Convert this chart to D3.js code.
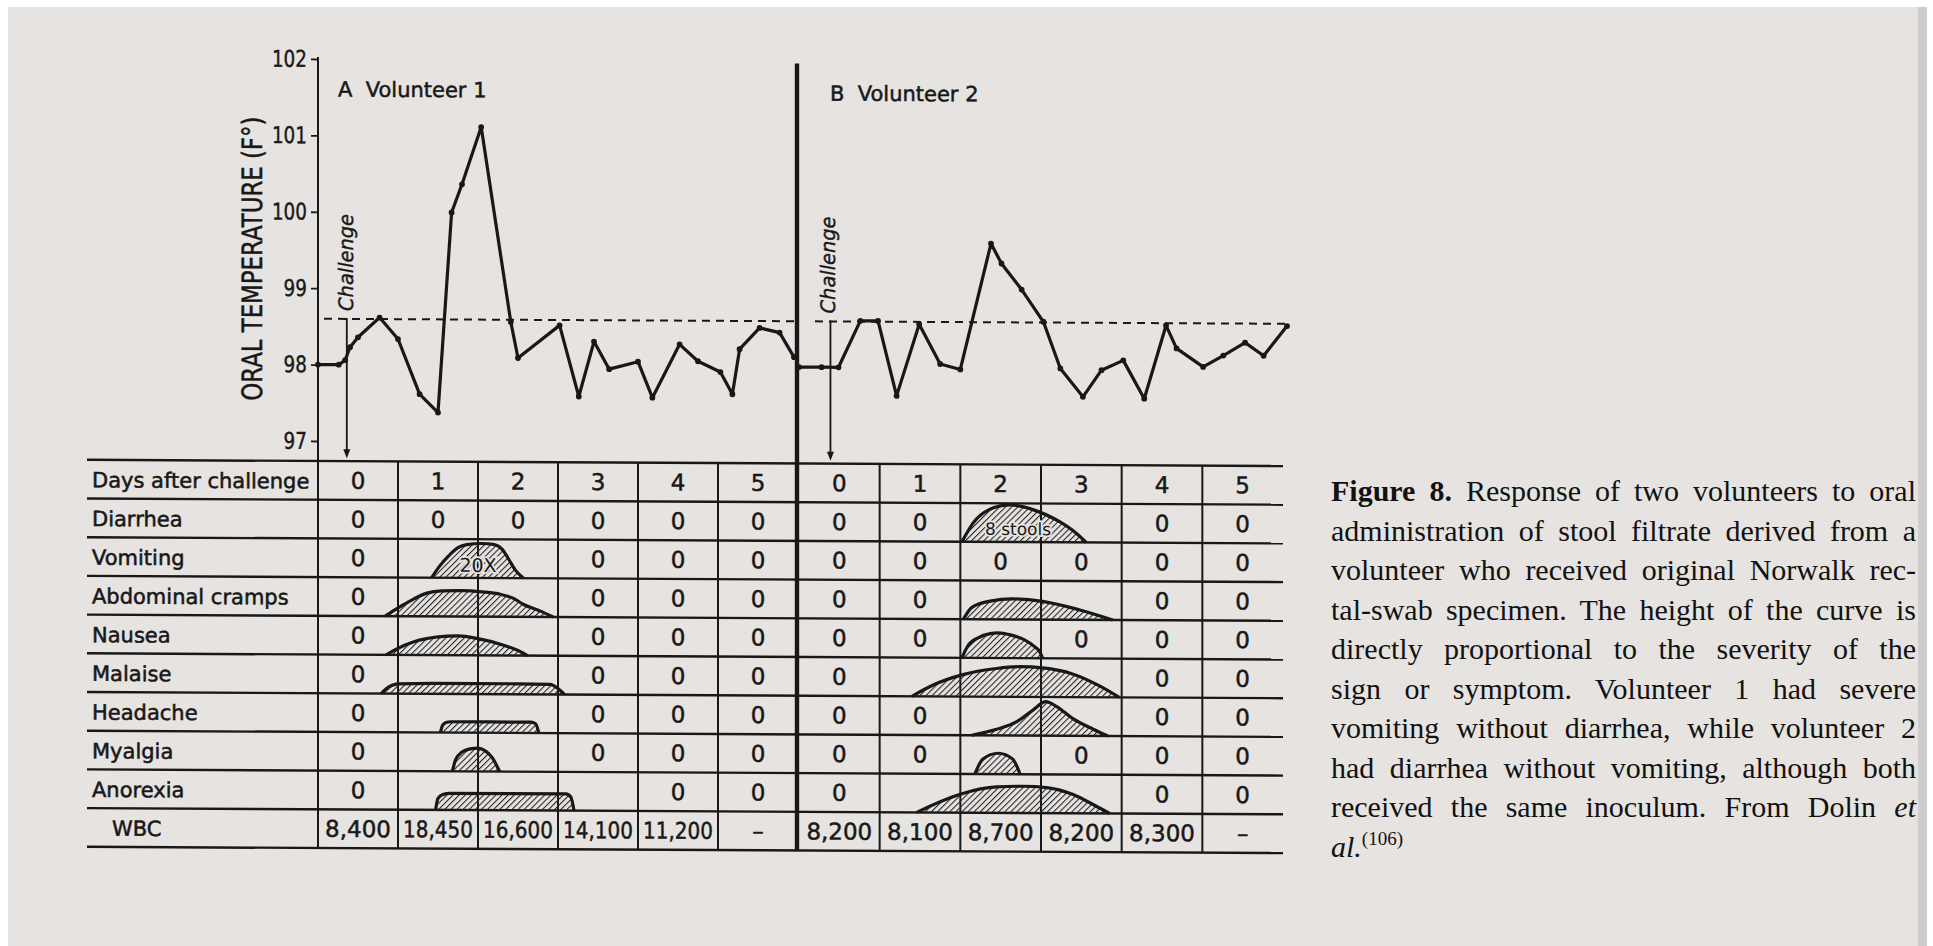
<!DOCTYPE html>
<html><head><meta charset="utf-8">
<script src="https://cdn.jsdelivr.net/npm/d3@7"></script>
<style>
html,body{margin:0;padding:0;background:#fff;}
svg{display:block;}
</style></head><body>
<svg id="c" width="1933" height="946"></svg>
<script>
// ---------------- DATA ----------------
const dayLabels = ["0","1","2","3","4","5"];
const symptoms = ["Diarrhea","Vomiting","Abdominal cramps","Nausea","Malaise","Headache","Myalgia","Anorexia"];
const tempTicks = [97,98,99,100,101,102];
const normalTemp = 98.6;
const challengeDay = [0.36, 0.39];

const v1Days  = [0,0.26,0.34,0.4,0.5,0.77,1.0,1.27,1.5,1.67,1.8,2.04,2.41,2.5,3.02,3.26,3.45,3.64,4.0,4.18,4.52,4.75,5.03,5.18,5.27,5.52,5.77,5.95];
const v1Temps = [98.0,98.0,98.06,98.23,98.36,98.62,98.34,97.62,97.38,100.0,100.37,101.12,98.57,98.1,98.53,97.6,98.32,97.96,98.06,97.59,98.29,98.07,97.93,97.64,98.23,98.51,98.45,98.13];

const v2Days  = [0,0.28,0.49,0.76,0.98,1.21,1.49,1.75,2.0,2.38,2.51,2.76,3.03,3.24,3.52,3.75,4.02,4.28,4.55,4.68,5.01,5.26,5.53,5.76,6.05];
const v2Temps = [98.0,98.0,98.0,98.61,98.61,97.63,98.57,98.05,97.98,99.63,99.37,99.03,98.61,98.0,97.63,97.98,98.11,97.61,98.57,98.27,98.03,98.18,98.35,98.18,98.57];

// table cells (rows = symptoms, cols = days 0..5); "" = covered by curve
const v1Cells = [
 ["0","0","0","0","0","0"],
 ["0","","","0","0","0"],
 ["0","","","0","0","0"],
 ["0","","","0","0","0"],
 ["0","","","0","0","0"],
 ["0","","","0","0","0"],
 ["0","","","0","0","0"],
 ["0","","","","0","0"]
];
const v2Cells = [
 ["0","0","","","0","0"],
 ["0","0","0","0","0","0"],
 ["0","0","","","0","0"],
 ["0","0","","0","0","0"],
 ["0","","","","0","0"],
 ["0","0","","","0","0"],
 ["0","0","","0","0","0"],
 ["0","","","","0","0"]
];
const v1WBC = ["8,400","18,450","16,600","14,100","11,200","\u2013"];
const v2WBC = ["8,200","8,100","8,700","8,200","8,300","\u2013"];

// severity curves: [day, severity (fraction of row height)]
const v1Vomiting  = [[1.42,0],[1.52,0.3],[1.63,0.56],[1.75,0.78],[1.86,0.86],[2.05,0.89],[2.19,0.87],[2.3,0.75],[2.38,0.5],[2.47,0.2],[2.57,0]];
const v1Abdominal = [[0.84,0],[0.95,0.15],[1.03,0.25],[1.2,0.45],[1.36,0.6],[1.55,0.66],[1.8,0.67],[2.05,0.64],[2.28,0.58],[2.45,0.47],[2.57,0.32],[2.78,0.15],[2.94,0]];
const v1Nausea    = [[0.85,0],[0.98,0.15],[1.2,0.34],[1.5,0.47],[1.75,0.5],[2.0,0.43],[2.33,0.26],[2.5,0.13],[2.62,0]];
const v1Malaise   = [[0.79,0],[0.85,0.12],[0.92,0.21],[1.0,0.25],[1.5,0.27],[2.5,0.27],[2.9,0.26],[3.0,0.15],[3.08,0]];
const v1Headache  = [[1.53,0],[1.56,0.2],[1.6,0.26],[1.66,0.28],[2.66,0.28],[2.72,0.24],[2.76,0]];
const v1Myalgia   = [[1.68,0],[1.72,0.3],[1.8,0.5],[1.9,0.58],[2.0,0.6],[2.1,0.52],[2.18,0.35],[2.27,0]];
const v1Anorexia  = [[1.47,0],[1.5,0.3],[1.56,0.4],[1.65,0.43],[3.1,0.43],[3.16,0.35],[3.2,0]];

const v2Diarrhea  = [[2.02,0],[2.16,0.49],[2.41,0.88],[2.61,0.96],[2.9,0.84],[3.23,0.53],[3.44,0.23],[3.56,0]];
const v2Abdominal = [[2.04,0],[2.14,0.3],[2.37,0.47],[2.65,0.53],[3.02,0.47],[3.47,0.26],[3.89,0]];
const v2Nausea    = [[2.02,0],[2.09,0.3],[2.22,0.52],[2.37,0.63],[2.47,0.65],[2.62,0.6],[2.79,0.48],[2.92,0.3],[2.99,0.15],[3.02,0]];
const v2Malaise   = [[1.4,0],[1.67,0.3],[2.02,0.56],[2.45,0.73],[2.74,0.78],[3.02,0.75],[3.39,0.6],[3.72,0.3],[3.97,0]];
const v2Headache  = [[2.14,0],[2.45,0.16],[2.7,0.36],[2.9,0.66],[3.06,0.88],[3.19,0.76],[3.39,0.45],[3.64,0.18],[3.83,0]];
const v2Myalgia   = [[2.18,0],[2.28,0.39],[2.47,0.54],[2.65,0.39],[2.74,0]];
const v2Anorexia  = [[1.46,0],[1.75,0.28],[2.02,0.49],[2.45,0.67],[2.78,0.69],[3.07,0.66],[3.39,0.49],[3.68,0.19],[3.85,0]];

const v1CurveRows = [null, v1Vomiting, v1Abdominal, v1Nausea, v1Malaise, v1Headache, v1Myalgia, v1Anorexia];
const v2CurveRows = [v2Diarrhea, null, v2Abdominal, v2Nausea, v2Malaise, v2Headache, v2Myalgia, v2Anorexia];

const captionLines = [
 [["Figure 8.","b"],[" Response of two volunteers to oral",""]],
 [["administration of stool filtrate derived from a",""]],
 [["volunteer who received original Norwalk rec-",""]],
 [["tal-swab specimen. The height of the curve is",""]],
 [["directly proportional to the severity of the",""]],
 [["sign or symptom. Volunteer 1 had severe",""]],
 [["vomiting without diarrhea, while volunteer 2",""]],
 [["had diarrhea without vomiting, although both",""]],
 [["received the same inoculum. From Dolin ",""],["et","i"]],
 [["al.","i"],["(106)","sup"]]
];

// ---------------- LAYOUT ----------------
const svg = d3.select("#c");
const INK = "#181818";
const PAPER = "#e6e3e1";
const SANS = "'DejaVu Sans', 'Noto Sans', sans-serif";
const SERIF = "'Liberation Serif', 'DejaVu Serif', serif";

svg.append("rect").attr("x",0).attr("y",0).attr("width",1933).attr("height",946).attr("fill","#ffffff");
svg.append("rect").attr("x",8).attr("y",7).attr("width",1913).attr("height",939).attr("fill",PAPER);
svg.append("rect").attr("x",1918).attr("y",7).attr("width",9).attr("height",939).attr("fill","#cfcccb");

const defs = svg.append("defs");
const pat = defs.append("pattern").attr("id","hatch").attr("patternUnits","userSpaceOnUse")
  .attr("width",4.3).attr("height",4.3).attr("patternTransform","rotate(45)");
pat.append("line").attr("x1",0).attr("y1",0).attr("x2",0).attr("y2",4.3)
  .attr("stroke","#222").attr("stroke-width",2.1);

const tableLeft = 87, tableTop = 461, rowH = 38.7, nRows = 10;
const tableBottom = tableTop + rowH*nRows;
const tableRight = 1283;
const x1 = d3.scaleLinear().domain([0,6]).range([318,798]);
const x2 = d3.scaleLinear().domain([0,6]).range([799,1283]);
const y = d3.scaleLinear().domain([97,102]).range([441,59]);
const dividerX = 797;

const t = 0.0052;
const fig = svg.append("g").attr("transform",`matrix(1,${t},0,1,0,${-t*318})`);

function bold(sel, w){ return sel.attr("stroke",INK).attr("stroke-width",w||0.55); }

// ---- table grid ----
for (let i=0;i<=nRows;i++){
  const yy = tableTop + i*rowH;
  fig.append("line").attr("x1",tableLeft).attr("x2",tableRight).attr("y1",yy).attr("y2",yy)
    .attr("stroke",INK).attr("stroke-width",2.4);
}
[1,2,3,4,5].forEach(d=>{
  fig.append("line").attr("x1",x1(d)).attr("x2",x1(d)).attr("y1",tableTop).attr("y2",tableBottom).attr("stroke",INK).attr("stroke-width",2);
  fig.append("line").attr("x1",x2(d)).attr("x2",x2(d)).attr("y1",tableTop).attr("y2",tableBottom).attr("stroke",INK).attr("stroke-width",2);
});
fig.append("line").attr("x1",x1(0)).attr("x2",x1(0)).attr("y1",y(102)-2).attr("y2",tableBottom).attr("stroke",INK).attr("stroke-width",2);
fig.append("line").attr("x1",dividerX).attr("x2",dividerX).attr("y1",61).attr("y2",tableBottom).attr("stroke",INK).attr("stroke-width",4.4);

// ---- y axis ----
const ax = fig.append("g").attr("transform",`translate(${x1(0)},0)`)
  .call(d3.axisLeft(y).tickValues(tempTicks).tickSize(7).tickSizeOuter(0).tickPadding(4).tickFormat(d3.format("d")));
ax.select(".domain").remove();
ax.selectAll(".tick line").attr("stroke",INK).attr("stroke-width",1.8);
ax.selectAll(".tick text").attr("fill",INK).style("font-family",SANS).style("font-size","23px")
  .each(function(){ const n=this; const L=n.getComputedTextLength(); d3.select(n).attr("textLength",L*0.8).attr("lengthAdjust","spacingAndGlyphs"); });
bold(ax.selectAll(".tick text"),0.4);

bold(fig.append("text").attr("transform","translate(262,259) rotate(-90)")
  .attr("text-anchor","middle").attr("fill",INK)
  .attr("textLength",284).attr("lengthAdjust","spacingAndGlyphs")
  .style("font-family",SANS).style("font-size","28px")
  .text("ORAL TEMPERATURE (F\u00B0)"),0.5);

// titles
bold(fig.append("text").attr("x",338).attr("y",96.5).attr("fill",INK).style("white-space","pre")
  .style("font-family",SANS).style("font-size","21px").text("A  Volunteer 1"),0.5);
bold(fig.append("text").attr("x",830).attr("y",98).attr("fill",INK).style("white-space","pre")
  .style("font-family",SANS).style("font-size","21px").text("B  Volunteer 2"),0.5);

// ---- normal temp dashed lines ----
fig.append("line").attr("x1",x1(0)+6).attr("x2",dividerX-2).attr("y1",y(normalTemp)).attr("y2",y(normalTemp))
  .attr("stroke",INK).attr("stroke-width",2).attr("stroke-dasharray","8,6");
fig.append("line").attr("x1",815).attr("x2",1289).attr("y1",y(normalTemp)).attr("y2",y(normalTemp))
  .attr("stroke",INK).attr("stroke-width",2).attr("stroke-dasharray","8,6");

// ---- challenge arrows ----
[[x1,challengeDay[0],6.5],[x2,challengeDay[1],4.5]].forEach(([xs,d,off])=>{
  const cx = xs(d);
  fig.append("line").attr("x1",cx).attr("x2",cx).attr("y1",y(normalTemp)-1).attr("y2",tableTop-8)
    .attr("stroke",INK).attr("stroke-width",1.8);
  fig.append("path").attr("d",`M${cx-3.5},${tableTop-12} L${cx+3.5},${tableTop-12} L${cx},${tableTop-3} Z`).attr("fill",INK);
  bold(fig.append("text").attr("transform",`translate(${cx+off},${y(normalTemp)-8}) rotate(-90)`)
    .attr("fill",INK).attr("textLength",97).attr("lengthAdjust","spacingAndGlyphs")
    .style("font-family",SANS).style("font-style","italic").style("font-size","20px").text("Challenge"),0.4);
});

// ---- temperature lines ----
function drawTemp(xs, days, temps){
  const pts = days.map((d,i)=>[d,temps[i]]);
  fig.append("path").datum(pts)
    .attr("d", d3.line().x(p=>xs(p[0])).y(p=>y(p[1])))
    .attr("fill","none").attr("stroke",INK).attr("stroke-width",3.2).attr("stroke-linejoin","round");
  fig.selectAll(null).data(pts).enter().append("circle")
    .attr("cx",p=>xs(p[0])).attr("cy",p=>y(p[1])).attr("r",2.9).attr("fill",INK);
}
drawTemp(x1, v1Days, v1Temps);
drawTemp(x2, v2Days, v2Temps);

// ---- severity curves ----
function drawCurves(xs, rows){
  rows.forEach((c,i)=>{
    if(!c) return;
    const base = tableTop + (i+2)*rowH;
    const area = d3.area().x(p=>xs(p[0])).y0(base).y1(p=>base - p[1]*rowH).curve(d3.curveMonotoneX);
    const line = d3.line().x(p=>xs(p[0])).y(p=>base - p[1]*rowH).curve(d3.curveMonotoneX);
    fig.append("path").datum(c).attr("d",area).attr("fill","url(#hatch)");
    fig.append("path").datum(c).attr("d",line).attr("fill","none").attr("stroke",INK).attr("stroke-width",3.2);
  });
}
drawCurves(x1, v1CurveRows);
drawCurves(x2, v2CurveRows);

function halo(sel){ return sel.attr("stroke",PAPER).attr("stroke-width",3.5).style("paint-order","stroke"); }
halo(fig.append("text").attr("x",(x1(1.6)+x1(2.4))/2).attr("y",tableTop+3*rowH-6).attr("text-anchor","middle")
  .attr("fill",INK).style("font-family",SANS).style("font-size","19px").text("20X"));
halo(fig.append("text").attr("x",1018).attr("y",tableTop+2*rowH-7).attr("text-anchor","middle")
  .attr("fill",INK).style("font-family",SANS).style("font-size","17px").text("8 stools"));

// ---- table text ----
function rowBase(i){ return tableTop + i*rowH + rowH/2 + 8.2; }
function cellText(x, yy, s){
  const tx = fig.append("text").attr("x",x).attr("y",yy).attr("text-anchor","middle").attr("fill",INK)
    .style("font-family",SANS).style("font-size","23px").text(s);
  bold(tx,0.5);
  const len = tx.node().getComputedTextLength();
  if (len > 70) tx.attr("textLength",70).attr("lengthAdjust","spacingAndGlyphs");
  return tx;
}
bold(fig.append("text").attr("x",92).attr("y",rowBase(0)).attr("fill",INK)
  .style("font-family",SANS).style("font-size","21px").text("Days after challenge"));
symptoms.forEach((s,i)=>{
  bold(fig.append("text").attr("x",92).attr("y",rowBase(i+1)).attr("fill",INK)
    .style("font-family",SANS).style("font-size","21px").text(s));
});
bold(fig.append("text").attr("x",112).attr("y",rowBase(9)).attr("fill",INK)
  .style("font-family",SANS).style("font-size","21px").text("WBC"));

[[x1,v1Cells,v1WBC],[x2,v2Cells,v2WBC]].forEach(([xs,cells,wbc])=>{
  dayLabels.forEach((d,j)=> cellText(xs(j+0.5), rowBase(0), d));
  cells.forEach((row,i)=> row.forEach((v,j)=>{ if(v) cellText(xs(j+0.5), rowBase(i+1), v); }));
  wbc.forEach((v,j)=> cellText(xs(j+0.5), rowBase(9), v));
});

// ---- caption ----
const capX = 1331, capW = 585;
captionLines.forEach((segs,i)=>{
  const yy = 501 + 39.5*i;
  const tx = svg.append("text").attr("x",capX).attr("y",yy).attr("fill","#121212")
    .style("font-family",SERIF).style("font-size","30px").style("white-space","pre");
  segs.forEach(([s,st])=>{
    const ts = tx.append("tspan").text(s);
    if (st==="b") ts.style("font-weight","bold");
    if (st==="i") ts.style("font-style","italic");
    if (st==="sup") ts.style("font-size","19px").attr("dy",-12);
  });
  if (i < captionLines.length-1){
    const len = tx.node().getComputedTextLength();
    const full = segs.map(s=>s[0]).join("");
    const spaces = (full.match(/ /g)||[]).length;
    if (len < capW) tx.style("word-spacing", ((capW-len)/spaces)+"px");
    else tx.attr("textLength",capW).attr("lengthAdjust","spacingAndGlyphs");
  }
});
</script>
</body></html>
